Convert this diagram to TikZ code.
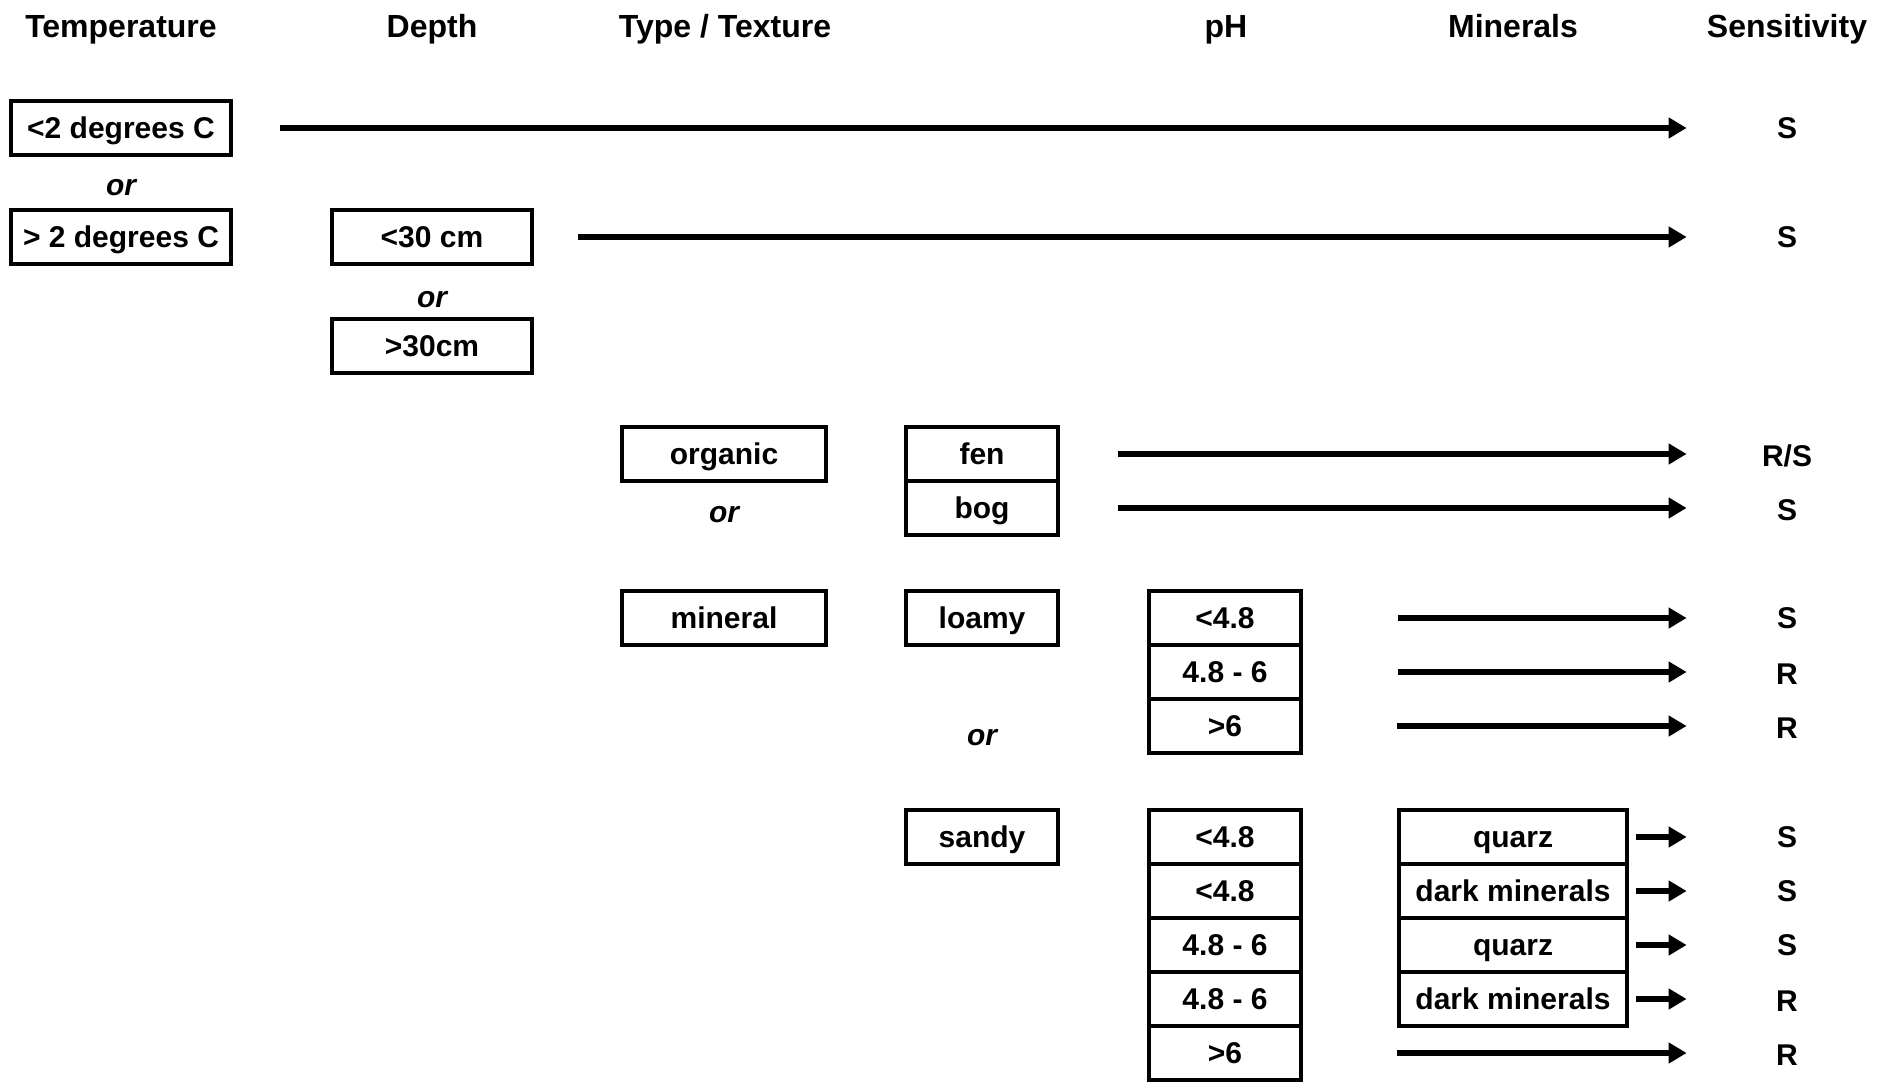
\documentclass[tikz,border=0pt]{standalone}
\usepackage{fontspec}
\setmainfont{Liberation Sans}
\usetikzlibrary{arrows.meta}

\begin{document}
\begin{tikzpicture}[
      x=0.5pt, y=-0.5pt,
      head/.style={font=\fontsize{16}{18}\selectfont\bfseries, text height=11.5pt, text depth=0pt},
      box/.style={draw, line width=2pt, minimum height=27pt, inner sep=0pt,
                  text height=10.7pt, text depth=0pt,
                  font=\fontsize{15}{17}\selectfont\bfseries},
      tempbox/.style={box, minimum width=110pt},
      depthbox/.style={box, minimum width=100pt},
      typebox/.style={box, minimum width=102pt},
      texbox/.style={box, minimum width=76pt},
      phbox/.style={box, minimum width=76pt},
      minbox/.style={box, minimum width=114pt},
      orlabel/.style={font=\fontsize{15}{17}\selectfont\bfseries\itshape, text height=8pt, text depth=0pt},
      sens/.style={minimum width=50pt, inner sep=0pt, text height=10.7pt, text depth=0pt,
                   font=\fontsize{15}{17}\selectfont\bfseries},
      arrow/.style={-{Triangle[length=9pt,width=10pt]}, line width=2.8pt, shorten >=25pt},
    ]
    \useasboundingbox (0,0) rectangle (1888,1081);

    % Column heads
    \node[head] (hTemp) at (121,26) {Temperature};
    \node[head] (hDepth) at (432,26) {Depth};
    \node[head] (hType) at (725,26) {Type / Texture};
    \node[head] (hPH) at (1226,26) {pH};
    \node[head] (hMin) at (1513,26) {Minerals};
    \node[head] (hSens) at (1787,26) {Sensitivity};

    % Temperature
    \node[tempbox] (cold) at (121,128) {<2 degrees C};
    \node[orlabel] (orTemp) at (121,187) {or};
    \node[tempbox] (warm) at (121,237) {> 2 degrees C};

    % Depth
    \node[depthbox] (shallow) at (432,237) {<30 cm};
    \node[orlabel] (orDepth) at (432,299) {or};
    \node[depthbox] (deep) at (432,346) {>30cm};

    % Type
    \node[typebox] (organic) at (724,454) {organic};
    \node[orlabel] (orType) at (724,514) {or};
    \node[typebox] (mineral) at (724,618) {mineral};

    % Texture
    \node[texbox] (fen) at (982,454) {fen};
    \node[texbox] (bog) at (982,508) {bog};
    \node[texbox] (loamy) at (982,618) {loamy};
    \node[orlabel] (orTex) at (982,737) {or};
    \node[texbox] (sandy) at (982,837) {sandy};

    % pH (loamy)
    \node[phbox] (phLa) at (1225,618) {<4.8};
    \node[phbox] (phLb) at (1225,672) {4.8 - 6};
    \node[phbox] (phLc) at (1225,726) {>6};

    % pH (sandy)
    \node[phbox] (phSa) at (1225,837) {<4.8};
    \node[phbox] (phSb) at (1225,891) {<4.8};
    \node[phbox] (phSc) at (1225,945) {4.8 - 6};
    \node[phbox] (phSd) at (1225,999) {4.8 - 6};
    \node[phbox] (phSe) at (1225,1053) {>6};

    % Minerals
    \node[minbox] (minA) at (1513,837) {quarz};
    \node[minbox] (minB) at (1513,891) {dark minerals};
    \node[minbox] (minC) at (1513,945) {quarz};
    \node[minbox] (minD) at (1513,999) {dark minerals};

    % Sensitivity
    \node[sens] (s1) at (1787,128) {S};
    \node[sens] (s2) at (1787,237) {S};
    \node[sens] (s3) at (1787,456) {R/S};
    \node[sens] (s4) at (1787,510) {S};
    \node[sens] (s5) at (1787,618) {S};
    \node[sens] (s6) at (1787,674) {R};
    \node[sens] (s7) at (1787,728) {R};
    \node[sens] (s8) at (1787,837) {S};
    \node[sens] (s9) at (1787,891) {S};
    \node[sens] (s10) at (1787,945) {S};
    \node[sens] (s11) at (1787,1001) {R};
    \node[sens] (s12) at (1787,1055) {R};

    % Arrows
    \draw[arrow, shorten <=23.5pt] (cold) -- (cold -| s1.west);
    \draw[arrow, shorten <=22pt] (shallow) -- (shallow -| s2.west);
    \draw[arrow, shorten <=29pt] (fen) -- (fen -| s3.west);
    \draw[arrow, shorten <=29pt] (bog) -- (bog -| s4.west);
    \draw[arrow, shorten <=47.5pt] (phLa) -- (phLa -| s5.west);
    \draw[arrow, shorten <=47.5pt] (phLb) -- (phLb -| s6.west);
    \draw[arrow, shorten <=47pt] (phLc) -- (phLc -| s7.west);
    \draw[arrow, shorten <=3.5pt] (minA) -- (minA -| s8.west);
    \draw[arrow, shorten <=3.5pt] (minB) -- (minB -| s9.west);
    \draw[arrow, shorten <=3.5pt] (minC) -- (minC -| s10.west);
    \draw[arrow, shorten <=3.5pt] (minD) -- (minD -| s11.west);
    \draw[arrow, shorten <=47pt] (phSe) -- (phSe -| s12.west);

  \end{tikzpicture}
\end{document}
